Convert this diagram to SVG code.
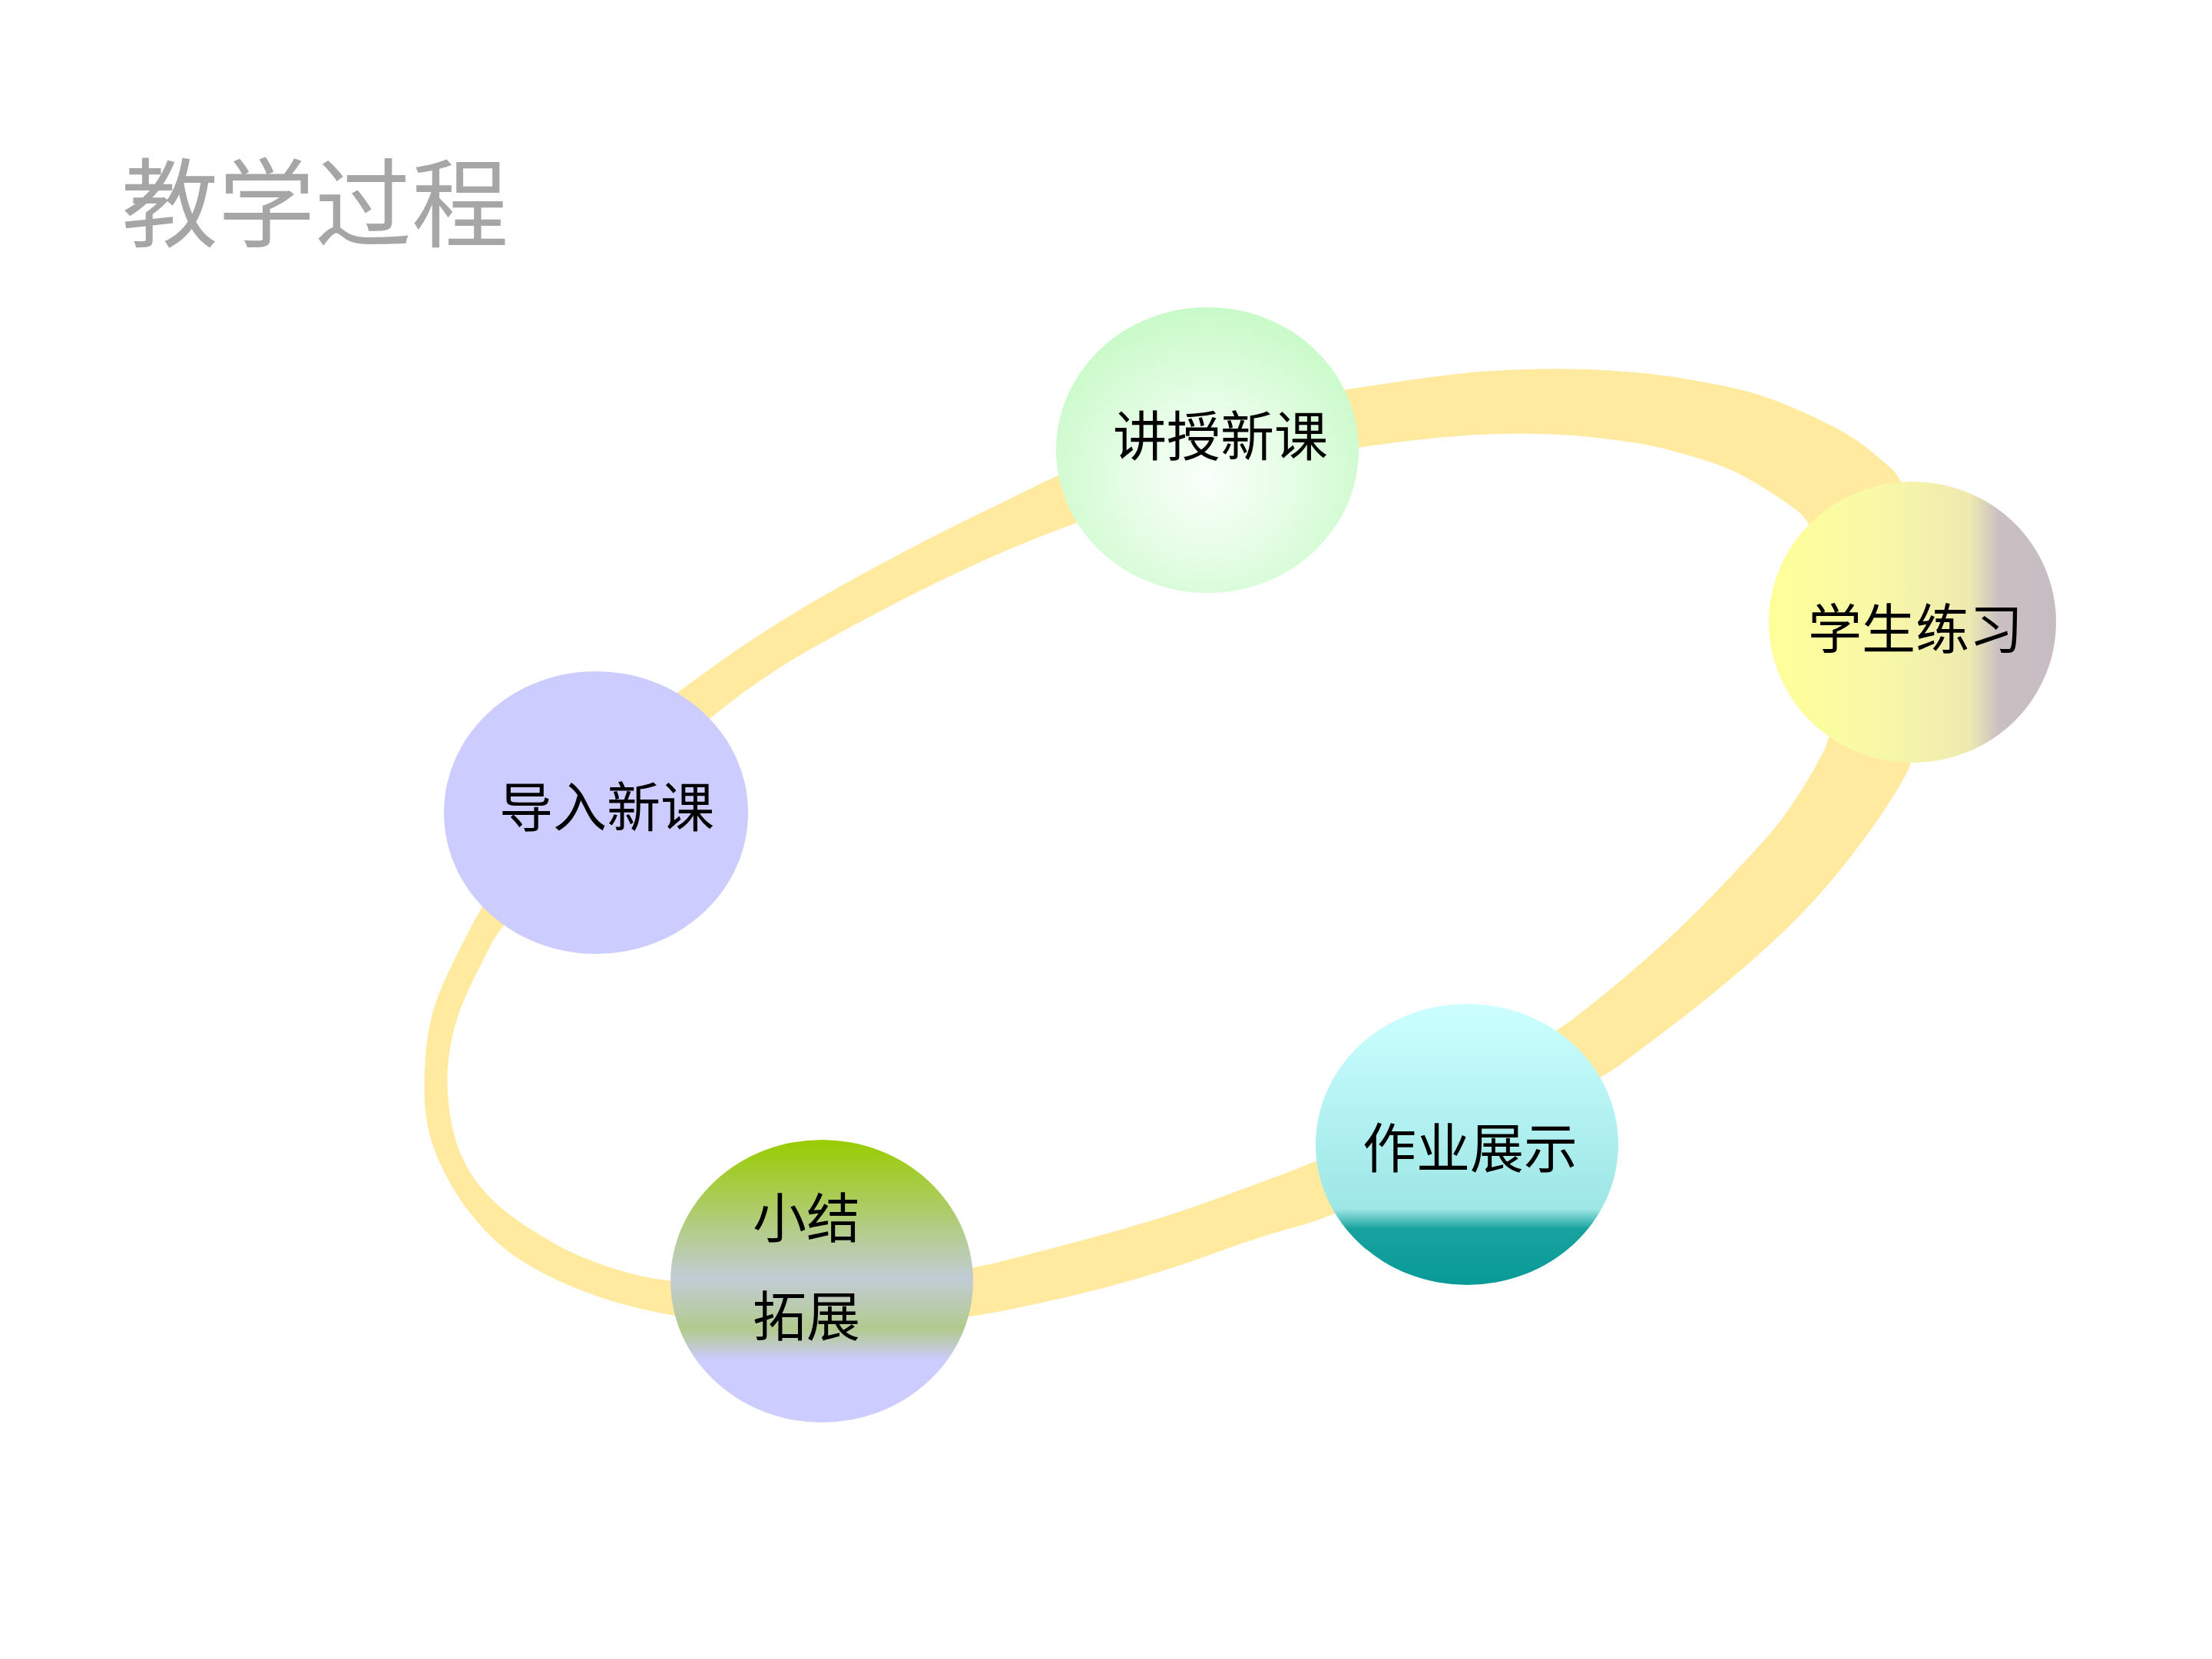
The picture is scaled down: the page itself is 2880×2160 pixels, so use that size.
<svg xmlns="http://www.w3.org/2000/svg" width="2880" height="2160" viewBox="0 0 2880 2160">
<style>
.lbl{font-family:"Noto Sans CJK SC","Noto Sans CJK TC",sans-serif;font-size:70px;fill:#000;text-anchor:middle}
.title{font-family:"Noto Sans CJK SC",sans-serif;font-size:126px;fill:#A6A6A6;text-anchor:middle}
.band{fill:#FFEAA0;fill-rule:evenodd}
</style>
<defs>
<radialGradient id="gGreen" cx="0.5" cy="0.6" r="0.6">
<stop offset="0" stop-color="#FAFFFA"/>
<stop offset="0.45" stop-color="#E6FDE6"/>
<stop offset="1" stop-color="#C8FAC8"/>
</radialGradient>
<linearGradient id="gYellow" x1="0" y1="0" x2="1" y2="0">
<stop offset="0" stop-color="#FFFF99"/>
<stop offset="0.4" stop-color="#F8F8A8"/>
<stop offset="0.7" stop-color="#EEEAB0"/>
<stop offset="0.8" stop-color="#CAC0C3"/>
<stop offset="1" stop-color="#C6BCC2"/>
</linearGradient>
<linearGradient id="gMix" x1="0" y1="0" x2="0" y2="1">
<stop offset="0" stop-color="#99CC00"/>
<stop offset="0.25" stop-color="#AECC6A"/>
<stop offset="0.49" stop-color="#C2CCD6"/>
<stop offset="0.67" stop-color="#B2CA8E"/>
<stop offset="0.78" stop-color="#CCCCFF"/>
<stop offset="1" stop-color="#CCCCFF"/>
</linearGradient>
<linearGradient id="gTeal" x1="0" y1="0" x2="0" y2="1">
<stop offset="0" stop-color="#CCFFFF"/>
<stop offset="0.73" stop-color="#9EE6E6"/>
<stop offset="0.8" stop-color="#18A29F"/>
<stop offset="1" stop-color="#089A97"/>
</linearGradient>
</defs>
<rect width="2880" height="2160" fill="#FFFFFF"/>
<text class="title" x="410" y="312">教学过程</text>
<g id="connectors">
<path class="band" d="M 801 961 Q 882 902 919.5 874.5 Q 957 847 1001.5 818.5 Q 1046 790 1091 765 Q 1136 740 1180.5 716.5 Q 1225 693 1269.5 671.5 Q 1314 650 1346 634 Q 1378 618 1469 579 Q 1560 540 1656 523.5 Q 1752 507 1820.5 497 Q 1889 487 1926.5 484 Q 1964 481 2001 480.5 Q 2038 480 2068 481 Q 2098 482 2130.5 485 Q 2163 488 2190 492.5 Q 2217 497 2244.5 502.5 Q 2272 508 2294.5 515.5 Q 2317 523 2342 534 Q 2367 545 2389 556.5 Q 2411 568 2428.5 581.5 Q 2446 595 2463.5 611 Q 2481 627 2510.5 713.5 Q 2540 800 2515 895 Q 2490 990 2485 1001 Q 2480 1012 2468.5 1031 Q 2457 1050 2442 1071.5 Q 2427 1093 2403.5 1123 Q 2380 1153 2356.5 1178 Q 2333 1203 2310 1224.5 Q 2287 1246 2261 1268 Q 2235 1290 2208.5 1311 Q 2182 1332 2156 1351.5 Q 2130 1371 2108.5 1387 Q 2087 1403 1993.5 1451.5 Q 1900 1500 1820 1541.5 Q 1740 1583 1690 1596.5 Q 1640 1610 1590 1628.5 Q 1540 1647 1490 1662 Q 1440 1677 1390 1688.5 Q 1340 1700 1301.5 1707.5 Q 1263 1715 1166.5 1727.5 Q 1070 1740 975 1727 Q 880 1714 850 1707.5 Q 820 1701 795 1693.5 Q 770 1686 738.5 1672.5 Q 707 1659 680 1642 Q 653 1625 633 1603.5 Q 613 1582 600 1563 Q 587 1544 575 1519 Q 563 1494 558 1471.5 Q 553 1449 552.5 1424 Q 552 1399 554.5 1370 Q 557 1341 563.5 1318 Q 570 1295 583.5 1266.5 Q 597 1238 612 1209.5 Q 627 1181 673.5 1100.5 Q 720 1020 801 961 Z M 852.5 996.5 Q 925 933 968 901.5 Q 1011 870 1055.5 845 Q 1100 820 1144.5 796.5 Q 1189 773 1234 751.5 Q 1279 730 1314.5 715 Q 1350 700 1377 690 Q 1404 680 1502 645 Q 1600 610 1685 596 Q 1770 582 1809.5 577 Q 1849 572 1881.5 569 Q 1914 566 1946.5 565 Q 1979 564 2011 565 Q 2043 566 2070.5 569 Q 2098 572 2125.5 576 Q 2153 580 2183 588.5 Q 2213 597 2232.5 603.5 Q 2252 610 2272 621 Q 2292 632 2309.5 643.5 Q 2327 655 2342 666.5 Q 2357 678 2388.5 749 Q 2420 820 2401.5 890 Q 2383 960 2375 976.5 Q 2367 993 2357 1010 Q 2347 1027 2330 1052 Q 2313 1077 2293 1098.5 Q 2273 1120 2253 1141.5 Q 2233 1163 2210 1186 Q 2187 1209 2161 1232.5 Q 2135 1256 2107.5 1279 Q 2080 1302 2053.5 1322.5 Q 2027 1343 1948.5 1391.5 Q 1870 1440 1791.5 1476.5 Q 1713 1513 1676.5 1526.5 Q 1640 1540 1590 1558.5 Q 1540 1577 1490 1592 Q 1440 1607 1390 1620 Q 1340 1633 1303.5 1642.5 Q 1267 1652 1168.5 1666 Q 1070 1680 972.5 1674.5 Q 875 1669 847.5 1664 Q 820 1659 786.5 1647.5 Q 753 1636 728 1622.5 Q 703 1609 678 1592 Q 653 1575 636.5 1557.5 Q 620 1540 610 1523 Q 600 1506 593.5 1485 Q 587 1464 584.5 1441 Q 582 1418 582.5 1399 Q 583 1380 586.5 1360.5 Q 590 1341 596.5 1322 Q 603 1303 615 1278 Q 627 1253 640 1228.5 Q 653 1204 716.5 1132 Q 780 1060 852.5 996.5 Z"/>
</g>
<g id="node-jiangshou">
<ellipse cx="1572" cy="586" rx="197" ry="186" fill="url(#gGreen)"/>
<text class="lbl" x="1589" y="594">讲授新课</text>
</g>
<g id="node-lianxi">
<ellipse cx="2490" cy="810" rx="187" ry="183" fill="url(#gYellow)"/>
<text class="lbl" x="2494" y="845">学生练习</text>
</g>
<g id="node-daoru">
<ellipse cx="776" cy="1058" rx="198" ry="184" fill="#CCCCFF"/>
<text class="lbl" x="790" y="1077">导入新课</text>
</g>
<g id="node-xiaojie">
<ellipse cx="1070" cy="1668" rx="197" ry="184" fill="url(#gMix)"/>
<text class="lbl" x="1050" y="1612">小结</text>
<text class="lbl" x="1050" y="1740">拓展</text>
</g>
<g id="node-zuoye">
<ellipse cx="1910" cy="1490" rx="197" ry="183" fill="url(#gTeal)"/>
<text class="lbl" x="1914" y="1521">作业展示</text>
</g>
</svg>
